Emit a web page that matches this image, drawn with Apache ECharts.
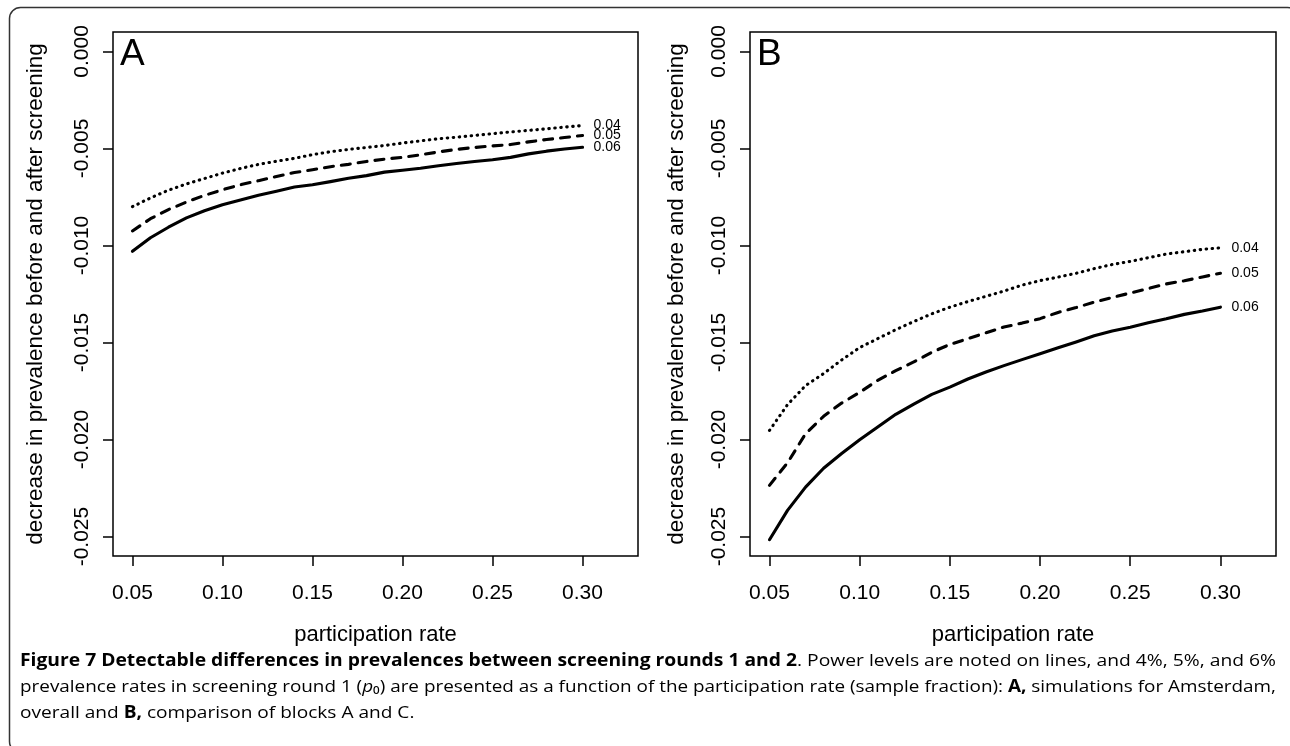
<!DOCTYPE html>
<html>
<head>
<meta charset="utf-8">
<script src="https://cdn.jsdelivr.net/npm/echarts@6/dist/echarts.min.js"></script>
<style>
html,body{margin:0;padding:0;background:#fff;}
#chart{width:1290px;height:746px;}
</style>
</head>
<body>
<div id="chart"></div>
<script>
// ---- data ----
const participation = [0.05,0.06,0.07,0.08,0.09,0.10,0.11,0.12,0.13,0.14,0.15,0.16,0.17,0.18,0.19,0.20,0.21,0.22,0.23,0.24,0.25,0.26,0.27,0.28,0.29,0.30];
const powerLabels = ['0.04','0.05','0.06'];
// Panel A
const a04 = [-0.0080,-0.00755,-0.00715,-0.00683,-0.00655,-0.00627,-0.00603,-0.00582,-0.00566,-0.00551,-0.00532,-0.00517,-0.00505,-0.00495,-0.00485,-0.00472,-0.00461,-0.00450,-0.00442,-0.00433,-0.00424,-0.00415,-0.00407,-0.00399,-0.00390,-0.00382];
const a05 = [-0.00925,-0.00862,-0.00815,-0.00776,-0.00742,-0.00713,-0.00687,-0.00666,-0.00644,-0.00624,-0.00610,-0.00594,-0.00582,-0.00567,-0.00555,-0.00546,-0.00533,-0.00518,-0.00505,-0.00495,-0.00487,-0.00480,-0.00466,-0.00454,-0.00444,-0.00433];
const a06 = [-0.0103,-0.0096,-0.00906,-0.00858,-0.00821,-0.00790,-0.00766,-0.00741,-0.00721,-0.00699,-0.00687,-0.00671,-0.00654,-0.00640,-0.00622,-0.00612,-0.00602,-0.00589,-0.00578,-0.00567,-0.00558,-0.00546,-0.00528,-0.00514,-0.00503,-0.00494];
// Panel B
const b04 = [-0.01953,-0.01820,-0.01722,-0.01660,-0.01590,-0.01526,-0.01480,-0.01434,-0.01392,-0.01352,-0.01318,-0.01289,-0.01262,-0.01235,-0.01204,-0.01181,-0.01163,-0.01143,-0.01119,-0.01098,-0.01082,-0.01063,-0.01044,-0.01032,-0.01020,-0.01012];
const b05 = [-0.02236,-0.02120,-0.01970,-0.01880,-0.01812,-0.01757,-0.01695,-0.01645,-0.01600,-0.01550,-0.01510,-0.01480,-0.01450,-0.01420,-0.01400,-0.01377,-0.01345,-0.01320,-0.01292,-0.01268,-0.01245,-0.01222,-0.01198,-0.01182,-0.01162,-0.01143];
const b06 = [-0.02516,-0.02365,-0.02245,-0.02148,-0.02072,-0.02001,-0.01935,-0.01870,-0.01817,-0.01767,-0.01730,-0.01688,-0.01652,-0.01619,-0.01588,-0.01558,-0.01527,-0.01497,-0.01465,-0.01441,-0.01421,-0.01398,-0.01378,-0.01355,-0.01338,-0.01318];
const xTicks = [0.05,0.10,0.15,0.20,0.25,0.30];
const yTicks = [-0.025,-0.020,-0.015,-0.010,-0.005,0.000];
const panelLetters = ['A','B'];
const xTitle = 'participation rate';
const yTitle = 'decrease in prevalence before and after screening';
const captionLines = [
  [['b','Figure 7 Detectable differences in prevalences between screening rounds 1 and 2'],['n','. Power levels are noted on lines, and 4%, 5%, and 6%']],
  [['n','prevalence rates in screening round 1 ('],['i','p'],['n','\u2080) are presented as a function of the participation rate (sample fraction): '],['b','A,'],['n',' simulations for Amsterdam,']],
  [['n','overall and '],['b','B,'],['n',' comparison of blocks A and C.']]
];

// ---- chart ----
const FONT = 'Liberation Sans, Arial, Helvetica, sans-serif';
const CAP_FONT = 'Open Sans';
const CAP_SIZE = 17;
const chart = echarts.init(document.getElementById('chart'), null, {renderer:'canvas'});

function mkSeries(name, arr, idx, dashType){
  return {
    type:'line', name:name, xAxisIndex:idx, yAxisIndex:idx,
    data: participation.map((x,i)=>[x, arr[i]]),
    showSymbol:false, symbol:'none', smooth:false, silent:true,
    lineStyle:{color:'#000', width:3.1, type:dashType, cap:'round', join:'round'},
    endLabel:{show:true, formatter:name, distance:11, color:'#000', fontSize:14, fontFamily:FONT},
    animation:false
  };
}
function xAx(idx){
  return {
    type:'value', gridIndex:idx, min:0.0392, max:0.3308,
    axisLine:{show:false, onZero:false},
    axisTick:{show:true, inside:false, customValues:xTicks, length:10, lineStyle:{color:'#000', width:1.5}},
    axisLabel:{customValues:xTicks, formatter:v=>v.toFixed(2), margin:27, fontSize:21, color:'#000', fontFamily:FONT},
    splitLine:{show:false},
    name:xTitle, nameLocation:'middle', nameGap:68,
    nameTextStyle:{fontSize:22, color:'#000', fontFamily:FONT}
  };
}
function yAx(idx, gap){
  return {
    type:'value', gridIndex:idx, min:-0.026, max:0.001,
    axisLine:{show:false, onZero:false},
    axisTick:{show:true, inside:false, customValues:yTicks, length:10, lineStyle:{color:'#000', width:1.5}},
    axisLabel:{customValues:yTicks, formatter:v=>v.toFixed(3), rotate:90, margin:20, fontSize:21, color:'#000', fontFamily:FONT},
    splitLine:{show:false},
    name:yTitle, nameLocation:'middle', nameGap:gap, nameRotate:90,
    nameTextStyle:{fontSize:22.5, color:'#000', fontFamily:FONT}
  };
}

// caption layout: measure and fit widths
const mctx = document.createElement('canvas').getContext('2d');
const capStyles = {
  n:{fontSize:CAP_SIZE, fontFamily:CAP_FONT, fontWeight:'normal', fontStyle:'normal', color:'#222'},
  b:{fontSize:CAP_SIZE, fontFamily:CAP_FONT, fontWeight:'bold', fontStyle:'normal', color:'#111'},
  i:{fontSize:CAP_SIZE, fontFamily:CAP_FONT, fontWeight:'normal', fontStyle:'italic', color:'#222'}
};
function segWidth(k, t){
  const s = capStyles[k];
  mctx.font = s.fontStyle+' '+s.fontWeight+' '+s.fontSize+'px "'+s.fontFamily+'"';
  return mctx.measureText(t).width;
}
const capX = 20, capRight = 1276, capYs = [661, 687, 713];
const widths = captionLines.map(l=>l.reduce((a,s)=>a+segWidth(s[0],s[1]),0));
const scales = [ (capRight-capX)/widths[0], (capRight-capX)/widths[1] ];
scales.push((scales[0]+scales[1])/2);
const captionGraphics = captionLines.map((l,i)=>({
  type:'text', x:capX, y:capYs[i], scaleX:scales[i], silent:true,
  style:{
    text:l.map(s=>'{'+s[0]+'|'+s[1]+'}').join(''),
    rich:capStyles, verticalAlign:'middle', align:'left',
    fontSize:CAP_SIZE, fontFamily:CAP_FONT
  }
}));

const option = {
  backgroundColor:'#fff',
  animation:false,
  grid:[
    {left:113, top:32, width:525, height:524, show:true, borderColor:'#000', borderWidth:1.5, backgroundColor:'transparent', containLabel:false, outerBoundsMode:'none'},
    {left:750, top:32, width:526, height:524, show:true, borderColor:'#000', borderWidth:1.5, backgroundColor:'transparent', containLabel:false, outerBoundsMode:'none'}
  ],
  xAxis:[xAx(0), xAx(1)],
  yAxis:[yAx(0, 66), yAx(1, 62)],
  series:[
    mkSeries(powerLabels[0], a04, 0, [0.5,5.5]),
    mkSeries(powerLabels[1], a05, 0, [9,8]),
    mkSeries(powerLabels[2], a06, 0, 'solid'),
    mkSeries(powerLabels[0], b04, 1, [0.5,5.5]),
    mkSeries(powerLabels[1], b05, 1, [9,8]),
    mkSeries(powerLabels[2], b06, 1, 'solid')
  ],
  graphic:[
    {type:'rect', silent:true, shape:{x:9.5, y:7.5, width:1289, height:745, r:11}, style:{fill:'none', stroke:'#333', lineWidth:1.5}},
    {type:'text', x:120, y:55, silent:true, style:{text:panelLetters[0], fontSize:37, fontFamily:FONT, fill:'#000', verticalAlign:'middle', align:'left'}},
    {type:'text', x:757, y:55, silent:true, style:{text:panelLetters[1], fontSize:37, fontFamily:FONT, fill:'#000', verticalAlign:'middle', align:'left'}}
  ].concat(captionGraphics)
};
chart.setOption(option);
</script>
</body>
</html>
